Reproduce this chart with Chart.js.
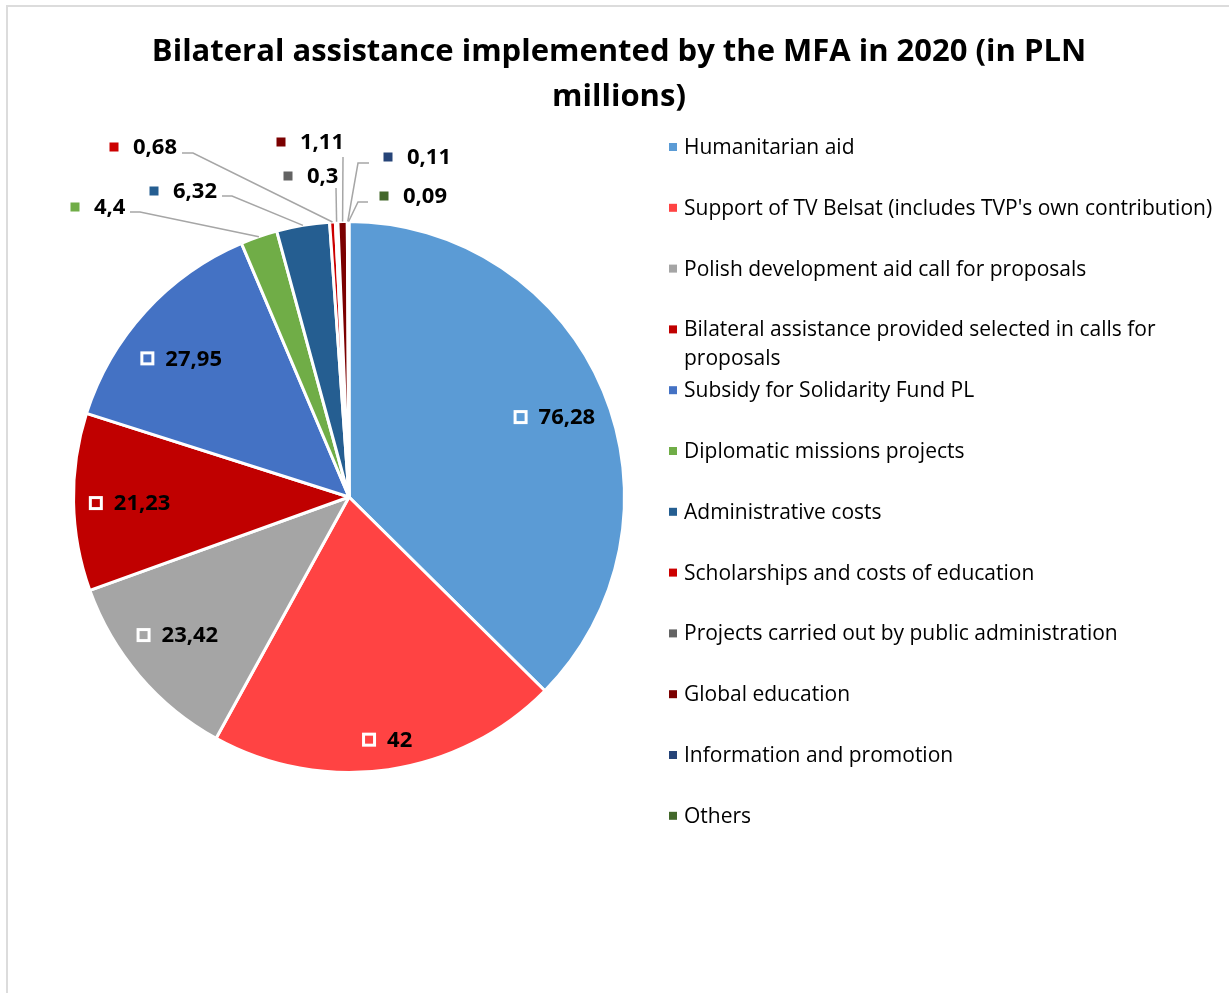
<!DOCTYPE html>
<html>
<head>
<meta charset="utf-8">
<script src="https://cdn.jsdelivr.net/npm/chart.js@4/dist/chart.umd.min.js"></script>
<style>
  html, body { margin: 0; padding: 0; background: #fff; overflow: hidden; }
  #wrap { position: relative; width: 1229px; height: 993px; }
  #frame { position: absolute; left: 6px; top: 5px; width: 1300px; height: 1100px;
           border-left: 2px solid #dcdcdc; border-top: 2px solid #dcdcdc; pointer-events: none; }
</style>
</head>
<body>
<div id="wrap">
  <canvas id="chart" width="1229" height="993"></canvas>
  <div id="frame"></div>
</div>
<script>
const titleLines = ['Bilateral assistance implemented by the MFA in 2020 (in PLN', 'millions)'];

const categories = [
  'Humanitarian aid',
  "Support of TV Belsat (includes TVP's own contribution)",
  'Polish development aid call for proposals',
  ['Bilateral assistance provided selected in calls for', 'proposals'],
  'Subsidy for Solidarity Fund PL',
  'Diplomatic missions projects',
  'Administrative costs',
  'Scholarships and costs of education',
  'Projects carried out by public administration',
  'Global education',
  'Information and promotion',
  'Others'
];

const values = [76.28, 42, 23.42, 21.23, 27.95, 4.4, 6.32, 0.68, 0.3, 1.11, 0.11, 0.09];

const sliceColors = [
  '#5B9BD5', '#FF4343', '#A5A5A5', '#C00000', '#4472C4', '#70AD47',
  '#255E91', '#CC0000', '#636363', '#7B0000', '#264478', '#43682B'
];

// label placement (layout only): fraction of radius + small pixel nudge
const insideSpots = {
  0: { f: 0.8,  dx: 2,  dy: 5 },
  1: { f: 0.89, dx: 3,  dy: 0 },
  2: { f: 0.8,  dx: -4, dy: -5 },
  3: { f: 0.8,  dx: 1,  dy: 2 },
  4: { f: 0.79, dx: -7, dy: 8 }
};
const outsideSpots = {
  5:  { mx: 75,  my: 207, sx: 130, sy: 212, ex: 140 },
  6:  { mx: 154, my: 191, sx: 222, sy: 196, ex: 232 },
  7:  { mx: 114, my: 147, sx: 182, sy: 153, ex: 193 },
  8:  { mx: 288, my: 176, sx: 336, sy: 188, ex: 336 },
  9:  { mx: 281, my: 142, sx: 343, sy: 157, ex: 343 },
  10: { mx: 388, my: 157, sx: 369, sy: 163, ex: 358 },
  11: { mx: 384, my: 196, sx: 368, sy: 202, ex: 358 }
};

const fmt = v => String(v).replace('.', ',');

const decorPlugin = {
  id: 'decor',
  afterDraw(chart) {
    const ctx = chart.ctx;
    const arcs = chart.getDatasetMeta(0).data;
    ctx.save();

    // title
    ctx.fillStyle = '#000';
    ctx.font = 'bold 31px "Open Sans"';
    ctx.textAlign = 'center';
    ctx.textBaseline = 'middle';
    titleLines.forEach((t, i) => ctx.fillText(t, 619, 52 + i * 45));

    // legend
    ctx.font = '21px "Open Sans"';
    ctx.textAlign = 'left';
    categories.forEach((lab, i) => {
      const y = 147 + i * 60.8;
      ctx.fillStyle = sliceColors[i];
      ctx.fillRect(669, y - 4, 8, 8);
      ctx.fillStyle = '#000';
      const lines = Array.isArray(lab) ? lab : [lab];
      lines.forEach((l, j) => ctx.fillText(l, 684, y + 1 + j * 29));
    });

    // data labels
    ctx.font = 'bold 22px "Open Sans"';
    arcs.forEach((arc, i) => {
      const p = arc.getProps(['x', 'y', 'startAngle', 'endAngle', 'outerRadius'], true);
      const mid = (p.startAngle + p.endAngle) / 2;
      const txt = fmt(values[i]);
      if (insideSpots[i]) {
        const s = insideSpots[i];
        const r = p.outerRadius * s.f;
        const cx = p.x + Math.cos(mid) * r + s.dx;
        const cy = p.y + Math.sin(mid) * r + s.dy;
        const tw = ctx.measureText(txt).width;
        const total = 14 + 11 + tw;
        const left = cx - total / 2;
        ctx.strokeStyle = '#fff';
        ctx.lineWidth = 3;
        ctx.strokeRect(left + 1.5, cy - 5.5, 11, 11);
        ctx.fillStyle = '#000';
        ctx.fillText(txt, left + 25, cy + 1);
      } else {
        const s = outsideSpots[i];
        const ax = p.x + Math.cos(mid) * p.outerRadius;
        const ay = p.y + Math.sin(mid) * p.outerRadius;
        ctx.strokeStyle = '#A6A6A6';
        ctx.lineWidth = 1.5;
        ctx.beginPath();
        ctx.moveTo(s.sx, s.sy);
        ctx.lineTo(s.ex, s.sy);
        ctx.lineTo(ax, ay);
        ctx.stroke();
        ctx.fillStyle = sliceColors[i];
        ctx.fillRect(s.mx - 4.5, s.my - 4.5, 9, 9);
        ctx.fillStyle = '#000';
        ctx.fillText(txt, s.mx + 19, s.my + 1);
      }
    });
    ctx.restore();
  }
};

new Chart(document.getElementById('chart'), {
  type: 'pie',
  data: {
    labels: categories,
    datasets: [{
      data: values,
      backgroundColor: sliceColors,
      borderColor: '#fff',
      borderWidth: 3
    }]
  },
  options: {
    responsive: false,
    animation: false,
    layout: { padding: { left: 72, right: 603, top: 220, bottom: 219 } },
    plugins: {
      legend: { display: false },
      title: { display: false },
      tooltip: { enabled: false }
    }
  },
  plugins: [decorPlugin]
});
</script>
</body>
</html>
